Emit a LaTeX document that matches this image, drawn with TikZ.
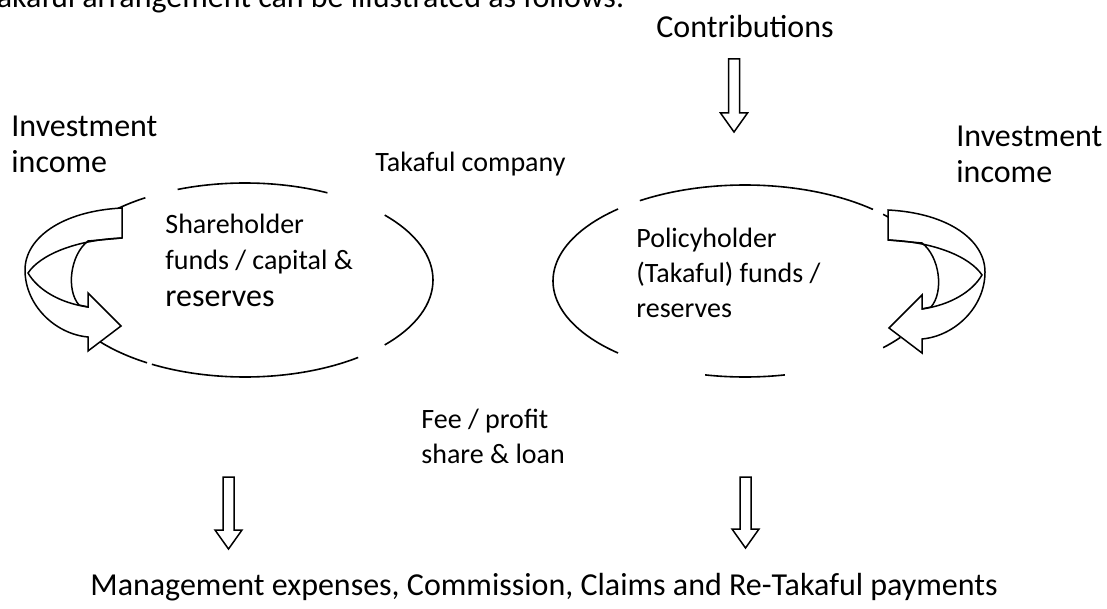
\documentclass[tikz,border=0pt]{standalone}
\usepackage{fontspec}
\setmainfont{Carlito}

\tikzset{
    lbl/.style={inner sep=0pt, align=left, font=\fontsize{14}{17.5}\selectfont},
    biglbl/.style={inner sep=0pt, align=left, font=\fontsize{16}{18}\selectfont},
    fundline/.style={line width=0.8pt},
    blockarrow/.style={line width=0.75pt, fill=white},
}

% hollow arrow pointing down: centre x, top y, tip y
\newcommand{\hollowdown}[3]{%
    \draw[blockarrow] (#1-5.5,#2) -- (#1+5.5,#2) -- (#1+5.5,#3-19)
        -- (#1+13.5,#3-19) -- (#1,#3) -- (#1-13.5,#3-19) -- (#1-5.5,#3-19) -- cycle;
}

% curved arrow going round the left side of a fund
\newcommand{\loopback}{%
    \draw[blockarrow] (122,208) .. controls (62,211) and (25,238) .. (25,270)
        .. controls (25,305) and (55,334) .. (88,337) -- (88,351) -- (121,326)
        -- (88,293) -- (88,307) -- (79,305) .. controls (66,290) and (70,255) .. (88,241)
        -- (122,238) -- cycle;
    % fold of the band
    \draw[line width=0.75pt] (122,238) .. controls (75,240) and (40,255) .. (28,273)
        .. controls (38,290) and (60,303) .. (88,307);
}

\begin{document}
\begin{tikzpicture}[x=0.5pt, y=-0.5pt]
        \useasboundingbox (0,0) rectangle (1107,609);
        \fill[white] (0,0) rectangle (1107,609);

        % shareholder fund
        \draw[fundline] (245,280) ++(42:188 and 97) arc[start angle=42, end angle=-42, x radius=188, y radius=97];
        \draw[fundline] (245,280) ++(-64:188 and 97) arc[start angle=-64, end angle=-111, x radius=188, y radius=97];
        \draw[fundline] (245,280) ++(-122:188 and 97) arc[start angle=-122, end angle=-238.6, x radius=188, y radius=97];
        \draw[fundline] (245,280) ++(-240.3:188 and 97) arc[start angle=-240.3, end angle=-307, x radius=188, y radius=97];

        % policyholder fund
        \draw[fundline] (745,281) ++(-44:192 and 96) arc[start angle=-44, end angle=-36, x radius=192, y radius=96];
        \draw[fundline] (745,281) ++(44:192 and 96) arc[start angle=44, end angle=36, x radius=192, y radius=96];
        \draw[fundline] (745,281) ++(-48.2:192 and 96) arc[start angle=-48.2, end angle=-123.2, x radius=192, y radius=96];
        \draw[fundline] (745,281) ++(-131.4:192 and 96) arc[start angle=-131.4, end angle=-228.6, x radius=192, y radius=96];
        \draw[fundline] (745,281) ++(-258:192 and 96) arc[start angle=-258, end angle=-282, x radius=192, y radius=96];

        \loopback
        \begin{scope}[shift={(1010,2)}, xscale=-1]
            \loopback
        \end{scope}

        % multi-line labels sit on the baseline of their last line
        \node[biglbl, anchor=base east] (intro) at (625,8) {akaful arrangement can be illustrated as follows:};
        \node[biglbl, anchor=base west] (contrib) at (656,38) {Contributions};
        \node[biglbl, anchor=base west] (invleft) at (11,173) {Investment\\income};
        \node[biglbl, anchor=base west] (invright) at (956,183) {Investment\\income};
        \node[lbl, anchor=base west] (company) at (375,172) {Takaful company};
        \node[lbl, anchor=base west, font=\fontsize{14}{18}\selectfont] (shareholder) at (165,306)
            {Shareholder\\funds / capital \&\\{\fontsize{16}{18}\selectfont reserves}};
        \node[lbl, anchor=base west] (policyholder) at (636,317) {Policyholder\\(Takaful) funds /\\reserves};
        \node[lbl, anchor=base west] (feeshare) at (421,463) {Fee / profit\\share \& loan};
        \node[biglbl, anchor=base west] (payments) at (90,595)
            {Management expenses, Commission, Claims and Re-Takaful payments};

        \hollowdown{734}{59}{132}
        \hollowdown{228.5}{477}{549}
        \hollowdown{745.5}{477}{548}

    \end{tikzpicture}
\end{document}
